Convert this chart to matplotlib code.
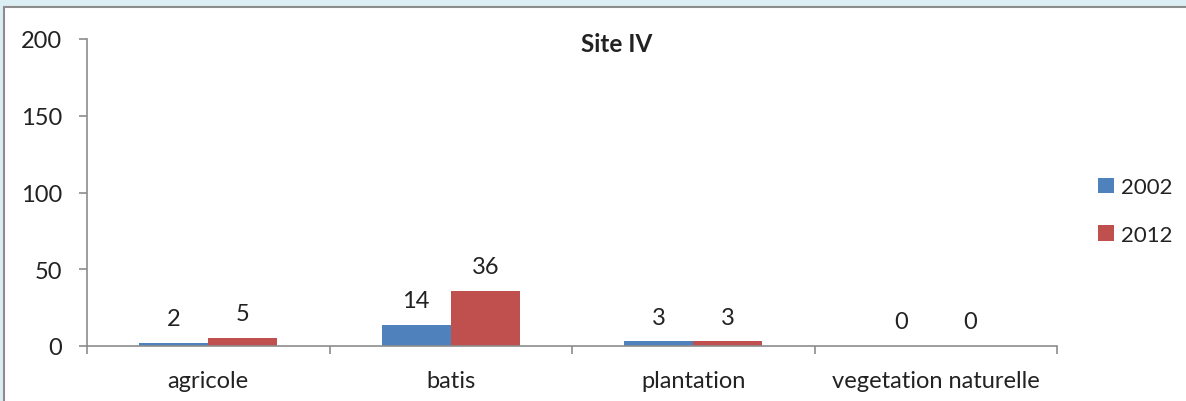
import numpy as np
import matplotlib.pyplot as plt
from matplotlib.patches import Rectangle

plt.rcParams['font.family'] = ['Lato', 'DejaVu Sans']

categories = ["agricole", "batis", "plantation", "vegetation naturelle"]
years = ["2002", "2012"]
values_2002 = [2, 14, 3, 0]
values_2012 = [5, 36, 3, 0]

fig = plt.figure(figsize=(11.86, 4.02), dpi=100)
fig.patch.set_facecolor('#dbeef4')

# white chart panel with grey frame on top/left
panel = Rectangle((4 / 1186, -0.5), 1.5, 1.5 - 8 / 402, transform=fig.transFigure,
                  facecolor='white', edgecolor='#8c8c8c', linewidth=1.5, zorder=-10)
fig.patches.append(panel)

ax = fig.add_axes([87 / 1186, 1 - 347 / 402, (1057 - 87) / 1186, (347 - 40) / 402])
ax.set_facecolor('none')

x = np.arange(len(categories))
w = 0.285
b1 = ax.bar(x - w / 2, values_2002, w, color='#4f81bd', label=years[0])
b2 = ax.bar(x + w / 2, values_2012, w, color='#c0504d', label=years[1])

fs = 17
for bars, vals in ((b1, values_2002), (b2, values_2012)):
    for rect, v in zip(bars, vals):
        ax.annotate(str(v), (rect.get_x() + rect.get_width() / 2, v),
                    xytext=(0, 10), textcoords='offset points',
                    ha='center', va='bottom', fontsize=fs, color='#222222')

ax.set_xlim(-0.5, len(categories) - 0.5)
ax.set_ylim(0, 200)
ax.set_yticks([0, 50, 100, 150, 200])

ax.set_xticks(np.arange(len(categories) + 1) - 0.5)
ax.set_xticklabels([])
ax.set_xticks(x, minor=True)
ax.set_xticklabels(categories, minor=True)
ax.tick_params(axis='x', which='minor', length=0, pad=17, labelsize=fs, labelcolor='#222222')
ax.tick_params(axis='x', which='major', length=6, color='#8c8c8c', width=1.2)
ax.tick_params(axis='y', length=6, color='#8c8c8c', width=1.2, pad=12,
               labelsize=fs, labelcolor='#222222')

for side in ('top', 'right'):
    ax.spines[side].set_visible(False)
for side in ('left', 'bottom'):
    ax.spines[side].set_color('#8c8c8c')
    ax.spines[side].set_linewidth(1.2)

fig.text(617 / 1186, 1 - 44 / 402, "Site IV", ha='center', va='center',
         fontsize=17.5, fontweight='bold', color='#222222')

fig.legend(handles=[b1, b2], labels=years, loc='center left',
           bbox_to_anchor=(1078 / 1186, 1 - 212 / 402), frameon=False,
           fontsize=16, handlelength=0.7, handleheight=0.7, handletextpad=0.35,
           labelspacing=1.25, labelcolor='#222222')

fig.savefig("out.png", dpi=100, facecolor=fig.get_facecolor())
